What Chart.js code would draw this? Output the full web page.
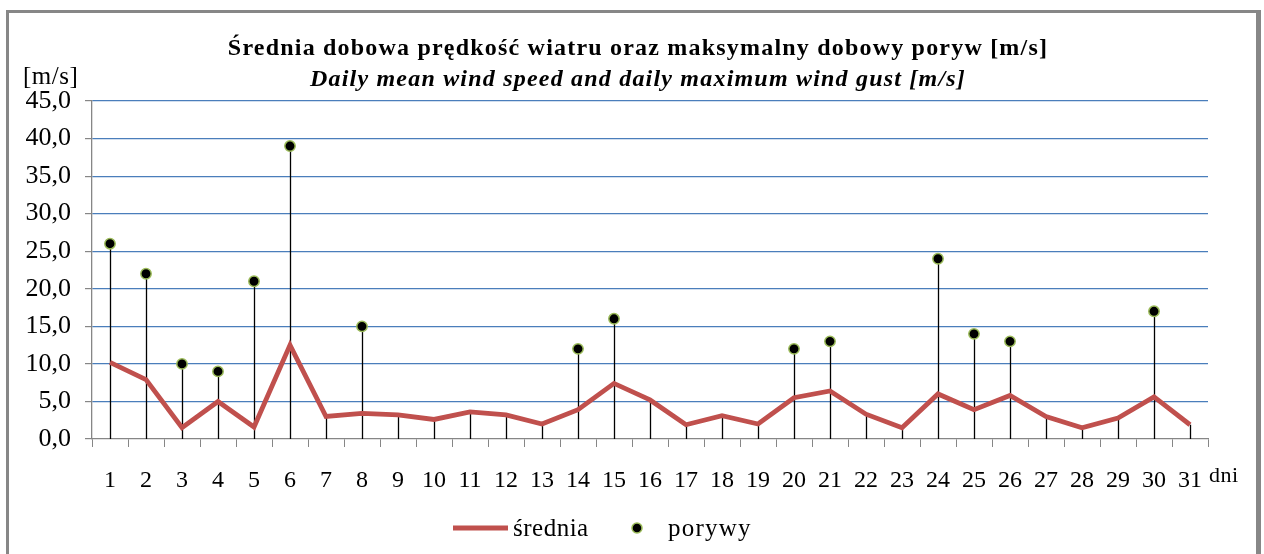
<!DOCTYPE html>
<html>
<head>
<meta charset="utf-8">
<script src="https://cdn.jsdelivr.net/npm/chart.js@4"></script>
<style>
  html, body { margin: 0; padding: 0; background: #fff; overflow: hidden; }
  #wrap { position: relative; width: 1264px; height: 554px; overflow: hidden; }
  #frame { position: absolute; left: 6px; top: 10px; width: 1247px; height: 600px;
           border: 3px solid #878787; border-right-width: 5px; }
  #windChart { position: absolute; left: 0; top: 0; }
</style>
</head>
<body>
<div id="wrap">
  <div id="frame"></div>
  <canvas id="windChart" width="1264" height="554"></canvas>
</div>
<script>
// --- data ---
const days = ['1','2','3','4','5','6','7','8','9','10','11','12','13','14','15','16',
              '17','18','19','20','21','22','23','24','25','26','27','28','29','30','31'];
const meanSpeed = [10.2, 7.9, 1.5, 5.0, 1.6, 12.5, 3.0, 3.4, 3.2, 2.6, 3.6, 3.2, 2.0, 3.9, 7.4, 5.2,
                   1.9, 3.1, 2.0, 5.5, 6.4, 3.3, 1.5, 6.0, 3.9, 5.8, 3.0, 1.5, 2.8, 5.6, 1.9];
const maxGust = [26, 22, 10, 9, 21, 39, null, 15, null, null, null, null, null, 12, 16, null,
                 null, null, null, 12, 13, null, null, 24, 14, 13, null, null, null, 17, null];
const yTicks = [0, 5, 10, 15, 20, 25, 30, 35, 40, 45];

const titlePl = 'Średnia dobowa prędkość wiatru oraz maksymalny dobowy poryw [m/s]';
const titleEn = 'Daily mean wind speed and daily maximum wind gust [m/s]';

const SERIF = '"Liberation Serif", "Times New Roman", serif';
const RED = '#C0504D';
const GRID_BLUE = '#4A7EBB';
const AXIS_GREY = '#868686';

// --- drop lines from the highest point of each day down to the axis ---
const dropLines = {
    id: 'dropLines',
    beforeDatasetsDraw(chart) {
        const x = chart.scales.x, y = chart.scales.y, ctx = chart.ctx;
        ctx.save();
        ctx.strokeStyle = '#000';
        ctx.lineWidth = 1.3;
        days.forEach((d, i) => {
            const top = maxGust[i] !== null ? Math.max(maxGust[i], meanSpeed[i]) : meanSpeed[i];
            const px = Math.round(x.getPixelForValue(i)) + 0.5;
            ctx.beginPath();
            ctx.moveTo(px, y.getPixelForValue(top));
            ctx.lineTo(px, y.getPixelForValue(0));
            ctx.stroke();
        });
        ctx.restore();
    }
};

// --- titles, unit labels and legend ---
const labelsPlugin = {
    id: 'labelsPlugin',
    afterDraw(chart) {
        const ctx = chart.ctx;
        ctx.save();
        ctx.fillStyle = '#000';
        ctx.textBaseline = 'alphabetic';
        ctx.textAlign = 'center';
        ctx.letterSpacing = '1.2px';
        ctx.font = 'bold 24px ' + SERIF;
        ctx.fillText(titlePl, 638, 55);
        ctx.font = 'italic bold 24px ' + SERIF;
        ctx.fillText(titleEn, 638, 86);

        ctx.textAlign = 'left';
        ctx.letterSpacing = '0.5px';
        ctx.font = '25px ' + SERIF;
        ctx.fillText('[m/s]', 23, 84);
        ctx.font = '22px ' + SERIF;
        ctx.fillText('dni', 1209, 482);

        // legend
        const ly = 528;
        ctx.strokeStyle = RED;
        ctx.lineWidth = 5;
        ctx.beginPath();
        ctx.moveTo(453, ly);
        ctx.lineTo(508, ly);
        ctx.stroke();
        ctx.font = '25px ' + SERIF;
        ctx.textBaseline = 'middle';
        ctx.fillText('średnia', 513, ly + 1);

        ctx.beginPath();
        ctx.arc(637, ly, 5, 0, Math.PI * 2);
        ctx.fillStyle = '#000';
        ctx.fill();
        ctx.lineWidth = 1.5;
        ctx.strokeStyle = '#9BBB59';
        ctx.stroke();
        ctx.fillStyle = '#000';
        ctx.letterSpacing = '1.2px';
        ctx.fillText('porywy', 668, ly + 1);
        ctx.restore();
    }
};

const ctx = document.getElementById('windChart').getContext('2d');
const windChart = new Chart(ctx, {
    type: 'line',
    data: {
        labels: days,
        datasets: [
            {
                label: 'porywy', data: maxGust, showLine: false, order: 0,
                pointRadius: 5.2, pointHoverRadius: 5.2,
                pointBackgroundColor: '#000', pointBorderColor: '#9BBB59', pointBorderWidth: 1.5
            },
            {
                label: 'średnia', data: meanSpeed, order: 1,
                borderColor: RED, borderWidth: 4.8, pointRadius: 0, tension: 0,
                borderJoinStyle: 'miter'
            }
        ]
    },
    options: {
        responsive: false,
        animation: false,
        events: [],
        layout: { padding: { top: 101, right: 56, bottom: 0, left: 0 } },
        plugins: {
            legend: { display: false },
            title: { display: false },
            tooltip: { enabled: false }
        },
        scales: {
            x: {
                type: 'category',
                offset: true,
                afterFit: (s) => { s.height = 115; },
                grid: { drawOnChartArea: false, drawTicks: true, tickLength: 8, color: AXIS_GREY, offset: true },
                border: { color: AXIS_GREY, width: 1.3 },
                ticks: { color: '#000', font: { family: SERIF, size: 24 }, padding: 19, maxRotation: 0, autoSkip: false }
            },
            y: {
                min: 0, max: 45,
                afterFit: (s) => { s.width = 92; },
                afterBuildTicks: (s) => { s.ticks = yTicks.map(v => ({ value: v })); },
                grid: {
                    color: (c) => c.tick && c.tick.value === 0 ? 'rgba(0,0,0,0)' : GRID_BLUE,
                    tickColor: AXIS_GREY, tickLength: 7, lineWidth: 1.2
                },
                border: { color: AXIS_GREY, width: 1.3 },
                ticks: {
                    color: '#000', padding: 14,
                    font: { family: SERIF, size: 26 },
                    callback: (v) => v.toFixed(1).replace('.', ',')
                }
            }
        }
    },
    plugins: [dropLines, labelsPlugin]
});
</script>
</body>
</html>
